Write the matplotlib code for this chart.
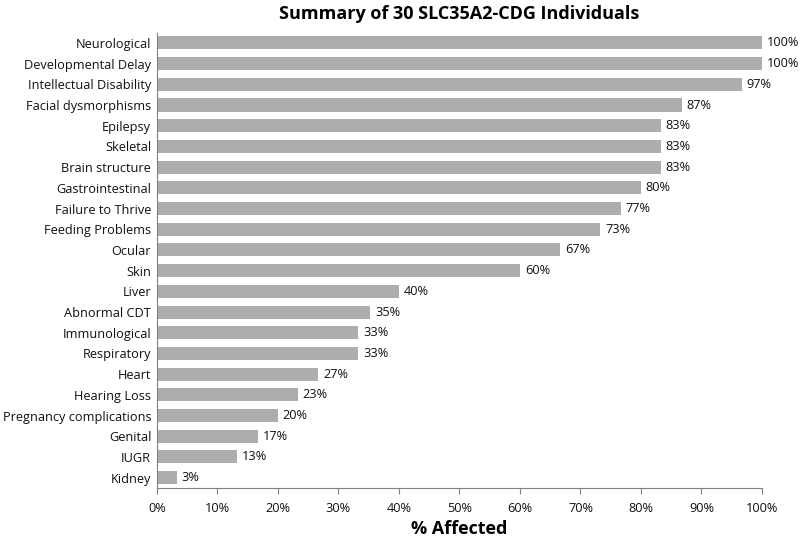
import matplotlib.pyplot as plt
import numpy as np

plt.rcParams['font.family'] = ['Open Sans', 'DejaVu Sans']

categories = ["Neurological", "Developmental Delay", "Intellectual Disability",
              "Facial dysmorphisms", "Epilepsy", "Skeletal", "Brain structure",
              "Gastrointestinal", "Failure to Thrive", "Feeding Problems", "Ocular",
              "Skin", "Liver", "Abnormal CDT", "Immunological", "Respiratory", "Heart",
              "Hearing Loss", "Pregnancy complications", "Genital", "IUGR", "Kidney"]
values = [100, 100, 96.7, 86.7, 83.3, 83.3, 83.3, 80, 76.7, 73.3, 66.7,
          60, 40, 35.3, 33.3, 33.3, 26.7, 23.3, 20, 16.7, 13.3, 3.3]
labels = ["100%", "100%", "97%", "87%", "83%", "83%", "83%", "80%", "77%", "73%", "67%",
          "60%", "40%", "35%", "33%", "33%", "27%", "23%", "20%", "17%", "13%", "3%"]
ticks = np.arange(0, 101, 10)

fig = plt.figure(figsize=(8, 5.39), dpi=100)
ax = fig.add_axes([0.196, 0.0946, 0.7565, 0.845])

y = np.arange(len(categories))
ax.barh(y, values, height=0.63, color='#ADADAD')
for yi, v, lab in zip(y, values, labels):
    ax.text(v + 0.8, yi, lab, va='center', ha='left', fontsize=9.2, color='#111111')

ax.set_yticks(y)
ax.set_yticklabels(categories, fontsize=9.2, color='#111111')
ax.set_ylim(len(categories) - 0.5, -0.5)
ax.set_xlim(0, 100)
ax.set_xticks(ticks)
ax.set_xticklabels([f"{t}%" for t in ticks], fontsize=9.2, color='#111111')
ax.tick_params(axis='y', length=0, pad=4)
ax.tick_params(axis='x', length=4, color='#808080', pad=6)

for s in ['top', 'right']:
    ax.spines[s].set_visible(False)
ax.spines['left'].set_color('#808080')
ax.spines['bottom'].set_color('#808080')

ax.set_title("Summary of 30 SLC35A2-CDG Individuals", fontsize=13, fontweight='bold', pad=10)
ax.set_xlabel("% Affected", fontsize=13, fontweight='bold', labelpad=4)

fig.savefig("out.png", dpi=100)
